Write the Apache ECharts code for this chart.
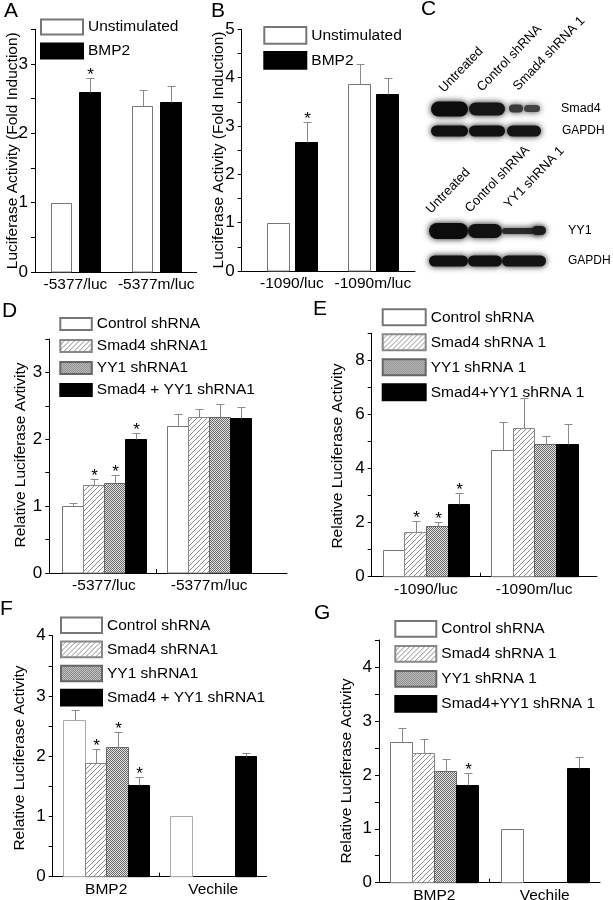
<!DOCTYPE html>
<html><head><meta charset="utf-8">
<script src="https://cdn.jsdelivr.net/npm/echarts@6/dist/echarts.min.js"></script>
<style>html,body{margin:0;padding:0;background:#fff}#c{width:613px;height:900px}</style>
</head><body><div id="c"></div>
<script>
// ---------- DATA ----------
const catsA = ['-5377/luc', '-5377m/luc'];
const A_unstim = [1.00, 2.40];
const A_unstimErr = [0, 0.23];
const A_bmp2 = [2.60, 2.45];
const A_bmp2Err = [0.20, 0.24];
const A_bmp2Star = [1, 0];

const catsB = ['-1090/luc', '-1090m/luc'];
const B_unstim = [1.00, 3.86];
const B_unstimErr = [0, 0.42];
const B_bmp2 = [2.66, 3.66];
const B_bmp2Err = [0.43, 0.33];
const B_bmp2Star = [1, 0];

const namesAB = ['Unstimulated', 'BMP2'];
const namesDF = ['Control shRNA', 'Smad4 shRNA1', 'YY1 shRNA1', 'Smad4 + YY1 shRNA1'];
const namesEG = ['Control shRNA', 'Smad4 shRNA 1', 'YY1 shRNA 1', 'Smad4+YY1 shRNA 1'];

const catsD = ['-5377/luc', '-5377m/luc'];
const D_ctrl = [1.00, 2.20], D_ctrlErr = [0.04, 0.18], D_ctrlStar = [0, 0];
const D_smad4 = [1.32, 2.33], D_smad4Err = [0.09, 0.13], D_smad4Star = [1, 0];
const D_yy1 = [1.35, 2.33], D_yy1Err = [0.11, 0.20], D_yy1Star = [1, 0];
const D_both = [2.00, 2.32], D_bothErr = [0.10, 0.16], D_bothStar = [1, 0];

const catsE = ['-1090/luc', '-1090m/luc'];
const E_ctrl = [1.00, 4.69], E_ctrlErr = [0, 1.04], E_ctrlStar = [0, 0];
const E_smad4 = [1.65, 5.50], E_smad4Err = [0.42, 1.10], E_smad4Star = [1, 0];
const E_yy1 = [1.88, 4.89], E_yy1Err = [0.14, 0.33], E_yy1Star = [1, 0];
const E_both = [2.69, 4.92], E_bothErr = [0.40, 0.71], E_bothStar = [1, 0];

const catsFG = ['BMP2', 'Vechile'];
const F_ctrl = [2.60, 1.00], F_ctrlErr = [0.17, 0], F_ctrlStar = [0, 0];
const F_smad4 = [1.88, null], F_smad4Err = [0.24, 0], F_smad4Star = [1, 0];
const F_yy1 = [2.16, null], F_yy1Err = [0.24, 0], F_yy1Star = [1, 0];
const F_both = [1.52, 2.00], F_bothErr = [0.13, 0.05], F_bothStar = [1, 0];

const G_ctrl = [2.60, 1.00], G_ctrlErr = [0.26, 0], G_ctrlStar = [0, 0];
const G_smad4 = [2.40, null], G_smad4Err = [0.27, 0], G_smad4Star = [0, 0];
const G_yy1 = [2.08, null], G_yy1Err = [0.21, 0], G_yy1Star = [0, 0];
const G_both = [1.82, 2.13], G_bothErr = [0.21, 0.20], G_bothStar = [1, 0];

// ---------- STYLE HELPERS ----------
const FF = "'Liberation Sans', Arial, sans-serif";
function makeHatch() {
  const c = document.createElement('canvas'); c.width = 5; c.height = 5;
  const g = c.getContext('2d');
  g.fillStyle = '#fff'; g.fillRect(0, 0, 5, 5);
  g.strokeStyle = '#8c8c8c'; g.lineWidth = 1;
  g.beginPath();
  g.moveTo(0, 5); g.lineTo(5, 0);
  g.moveTo(-1, 1); g.lineTo(1, -1);
  g.moveTo(4, 6); g.lineTo(6, 4);
  g.stroke();
  return c;
}
function makeDots() {
  const c = document.createElement('canvas'); c.width = 4; c.height = 4;
  const g = c.getContext('2d');
  g.fillStyle = '#e2e2e2'; g.fillRect(0, 0, 4, 4);
  g.fillStyle = '#6a6a6a';
  for (let y = 0; y < 4; y++) for (let x = 0; x < 4; x++) if ((x + y) % 2 === 0) g.fillRect(x, y, 1, 1);
  return c;
}
const HATCH = { image: makeHatch(), repeat: 'repeat' };
const DOTS = { image: makeDots(), repeat: 'repeat' };

function barSeries(name, gi, values, errs, stars, offset, width, fill, stroke) {
  const data = [];
  values.forEach((v, i) => { if (v != null) data.push([i + 1, v, errs[i] || 0, stars[i] || 0]); });
  return {
    type: 'custom', name: name, xAxisIndex: gi, yAxisIndex: gi,
    itemStyle: { color: fill, borderColor: stroke, borderWidth: 1 },
    data: data,
    renderItem: function (params, api) {
      const xc = api.value(0) + offset, v = api.value(1), e = api.value(2), s = api.value(3);
      const pL = api.coord([xc - width / 2, v]);
      const pR = api.coord([xc + width / 2, 0]);
      const x0 = Math.round(pL[0]) + 0.5, x1 = Math.round(pR[0]) + 0.5;
      const yt = Math.round(pL[1]) + 0.5, yb = pR[1];
      const children = [{
        type: 'rect', shape: { x: x0, y: yt, width: x1 - x0, height: yb - yt },
        style: { fill: fill, stroke: stroke, lineWidth: 1 }
      }];
      let topY = yt;
      const cx = Math.round((x0 + x1) / 2) + 0.5;
      if (e > 0) {
        const t = api.coord([xc, v + e]);
        topY = Math.round(t[1]) + 0.5;
        children.push({ type: 'line', shape: { x1: cx, y1: yt, x2: cx, y2: topY }, style: { stroke: '#8a8a8a', lineWidth: 1 } });
        children.push({ type: 'line', shape: { x1: cx - 4, y1: topY, x2: cx + 4, y2: topY }, style: { stroke: '#8a8a8a', lineWidth: 1 } });
      }
      if (s) {
        children.push({ type: 'text', x: cx, y: topY + 5,
          style: { text: '*', fontSize: 17, fontFamily: FF, fill: '#000', align: 'center', verticalAlign: 'bottom' } });
      }
      return { type: 'group', children: children };
    }
  };
}

function xAx(gi, min, max, cats, midTick) {
  return {
    type: 'value', gridIndex: gi, min: min, max: max,
    splitLine: { show: false },
    axisLine: { show: true, onZero: false, lineStyle: { color: '#000', width: 1 } },
    axisTick: midTick ? { show: true, inside: true, length: 4, customValues: [1.5], lineStyle: { color: '#000' } } : { show: false },
    axisLabel: { customValues: [1, 2], formatter: v => cats[Math.round(v) - 1] || '',
      fontSize: 15.5, fontFamily: FF, color: '#000', margin: 5 }
  };
}
function yAx(gi, max, interval, every) {
  return {
    type: 'value', gridIndex: gi, min: 0, max: max, interval: interval,
    splitLine: { show: false },
    axisLine: { show: true, lineStyle: { color: '#000', width: 1 } },
    axisTick: { show: true, inside: false, length: 4, lineStyle: { color: '#000' } },
    axisLabel: { fontSize: 17, fontFamily: FF, color: '#000', margin: 7,
      formatter: v => (Math.abs(v / every - Math.round(v / every)) < 1e-6) ? String(Math.round(v)) : '' }
  };
}
function legend(names, left, top, w, h, gap) {
  return {
    data: names, left: left, top: top, orient: 'vertical', padding: 0,
    itemWidth: w, itemHeight: h, itemGap: gap, icon: 'rect', selectedMode: false,
    textStyle: { fontSize: 15.5, fontFamily: FF, color: '#000', lineHeight: 16 }
  };
}

const grids = [
  { left: 35, top: 29.4, width: 161.7, height: 242.6 },     // A
  { left: 241.7, top: 29.3, width: 173.3, height: 241.7 },  // B
  { left: 49.3, top: 339, width: 237.7, height: 234 },      // D
  { left: 371.7, top: 333.3, width: 225.3, height: 243.4 }, // E
  { left: 52.7, top: 635.7, width: 214, height: 241 },      // F
  { left: 379, top: 640, width: 221, height: 242.7 }        // G
].map(g => Object.assign({ containLabel: false, outerBoundsMode: 'none' }, g));

const xAxes = [
  xAx(0, 0.5, 2.5, catsA, false),
  xAx(1, 0.38, 2.52, catsB, false),
  xAx(2, 0.48, 2.74, catsD, true),
  xAx(3, 0.5, 2.58, catsE, true),
  xAx(4, 0.5, 2.5, catsFG, true),
  xAx(5, 0.5, 2.5, catsFG, true)
];
const yAxes = [
  yAx(0, 3.5, 0.5, 1), yAx(1, 5, 0.5, 1), yAx(2, 3.5, 0.5, 1),
  yAx(3, 9, 1, 2), yAx(4, 4, 0.5, 1), yAx(5, 4.5, 0.5, 1)
];

const W = '#fff', K = '#000';
const series = [
  barSeries(namesAB[0], 0, A_unstim, A_unstimErr, [0, 0], -0.175, 0.25, W, '#777'),
  barSeries(namesAB[1], 0, A_bmp2, A_bmp2Err, A_bmp2Star, 0.175, 0.25, K, K),
  barSeries(namesAB[0], 1, B_unstim, B_unstimErr, [0, 0], -0.175, 0.27, W, '#777'),
  barSeries(namesAB[1], 1, B_bmp2, B_bmp2Err, B_bmp2Star, 0.175, 0.27, K, K),

  barSeries(namesDF[0], 2, D_ctrl, D_ctrlErr, D_ctrlStar, -0.3, 0.2, W, '#777'),
  barSeries(namesDF[1], 2, D_smad4, D_smad4Err, D_smad4Star, -0.1, 0.2, HATCH, '#888'),
  barSeries(namesDF[2], 2, D_yy1, D_yy1Err, D_yy1Star, 0.1, 0.2, DOTS, '#666'),
  barSeries(namesDF[3], 2, D_both, D_bothErr, D_bothStar, 0.3, 0.2, K, K),

  barSeries(namesEG[0], 3, E_ctrl, E_ctrlErr, E_ctrlStar, -0.3, 0.2, W, '#777'),
  barSeries(namesEG[1], 3, E_smad4, E_smad4Err, E_smad4Star, -0.1, 0.2, HATCH, '#888'),
  barSeries(namesEG[2], 3, E_yy1, E_yy1Err, E_yy1Star, 0.1, 0.2, DOTS, '#666'),
  barSeries(namesEG[3], 3, E_both, E_bothErr, E_bothStar, 0.3, 0.2, K, K),

  barSeries(namesDF[0], 4, F_ctrl, F_ctrlErr, F_ctrlStar, -0.3, 0.2, W, '#aaa'),
  barSeries(namesDF[1], 4, F_smad4, F_smad4Err, F_smad4Star, -0.1, 0.2, HATCH, '#888'),
  barSeries(namesDF[2], 4, F_yy1, F_yy1Err, F_yy1Star, 0.1, 0.2, DOTS, '#666'),
  barSeries(namesDF[3], 4, F_both, F_bothErr, F_bothStar, 0.3, 0.2, K, K),

  barSeries(namesEG[0], 5, G_ctrl, G_ctrlErr, G_ctrlStar, -0.3, 0.2, W, '#777'),
  barSeries(namesEG[1], 5, G_smad4, G_smad4Err, G_smad4Star, -0.1, 0.2, HATCH, '#888'),
  barSeries(namesEG[2], 5, G_yy1, G_yy1Err, G_yy1Star, 0.1, 0.2, DOTS, '#666'),
  barSeries(namesEG[3], 5, G_both, G_bothErr, G_bothStar, 0.3, 0.2, K, K)
];

const legends = [
  legend(namesAB, 40, 18.5, 42, 15, 7),
  legend(namesAB, 263.3, 26, 42, 16.7, 6.3),
  legend(namesDF, 59.3, 316, 31.5, 12, 6),
  legend(namesEG, 381.7, 308.3, 43, 16, 7),
  legend(namesDF, 60, 616.5, 41, 15.6, 6.5),
  legend(namesEG, 394.3, 620, 41, 15.7, 7.3)
];

// ---------- GRAPHIC TEXT / PANEL C ----------
const gfx = [];
function txt(x, y, s, size, opts) {
  gfx.push(Object.assign({ type: 'text', x: x, y: y,
    style: Object.assign({ text: s, fontSize: size, fontFamily: FF, fill: '#000', align: 'left', verticalAlign: 'top' }, (opts && opts.style) || {}) },
    opts && opts.rotation != null ? { rotation: opts.rotation } : {}));
}
[['A', 4, 1], ['B', 211, 1], ['C', 421, -1], ['D', 2, 301], ['E', 313, 299], ['F', 0, 599], ['G', 314, 603]]
  .forEach(p => txt(p[1], p[2], p[0], 21));
const R90 = Math.PI / 2;
const ytitle = (x, y, s) => txt(x, y, s, 15.5, { rotation: R90, style: { align: 'center', verticalAlign: 'middle' } });
ytitle(12.5, 150.7, 'Luciferase Activity (Fold Induction)');
ytitle(219, 150, 'Luciferase Activity (Fold Induction)');
ytitle(21, 455, 'Relative Luciferase Avtivity');
ytitle(338, 456, 'Relative Luciferase Activity');
ytitle(20, 758, 'Relative Luciferase Activity');
ytitle(347, 771, 'Relative Luciferase Activity');

// Panel C lane labels (rotated)
const RL = 46 * Math.PI / 180;
const lane = (x, y, s) => txt(x, y, s, 13, { rotation: RL, style: { align: 'left', verticalAlign: 'bottom' } });
lane(446, 95, 'Untreated'); lane(484, 94, 'Control shRNA'); lane(520, 93, 'Smad4 shRNA 1');
lane(433, 216, 'Untreated'); lane(472, 215, 'Control shRNA'); lane(511, 211, 'YY1 shRNA 1');
const rlab = (x, y, s, fs) => txt(x, y, s, fs, { style: { verticalAlign: 'middle' } });
rlab(561, 109, 'Smad4', 12.5); rlab(562, 131, 'GAPDH', 12); rlab(568, 231, 'YY1', 12.5); rlab(568, 261, 'GAPDH', 12);
function band(x, y, w, h, col, blur) {
  gfx.push({ type: 'rect', shape: { x: x, y: y, width: w, height: h, r: h / 2 },
    style: { fill: col, shadowBlur: blur == null ? 6 : blur, shadowColor: col } });
}
band(431, 101.5, 37, 15, '#0c0c0c'); band(469, 102.5, 36, 13, '#151515');
band(509, 104.5, 14, 8, '#3a3a3a'); band(524, 105, 16, 7, '#444');
band(431, 125.5, 37, 11, '#111'); band(469, 125.5, 36, 11, '#111'); band(507, 125.5, 34, 11, '#141414');
band(429, 223, 39, 16, '#0c0c0c'); band(468, 224, 34, 14, '#111');
band(502, 228, 40, 6, '#2a2a2a'); band(532, 226, 14, 9, '#1c1c1c');
band(429, 255.5, 39, 11, '#111'); band(468, 255.5, 34, 11, '#111'); band(502, 255.5, 44, 11, '#141414');

const chart = echarts.init(document.getElementById('c'), null, { renderer: 'canvas' });
chart.setOption({
  backgroundColor: '#fff',
  animation: false,
  grid: grids, xAxis: xAxes, yAxis: yAxes,
  legend: legends,
  series: series,
  graphic: gfx
});
</script></body></html>
